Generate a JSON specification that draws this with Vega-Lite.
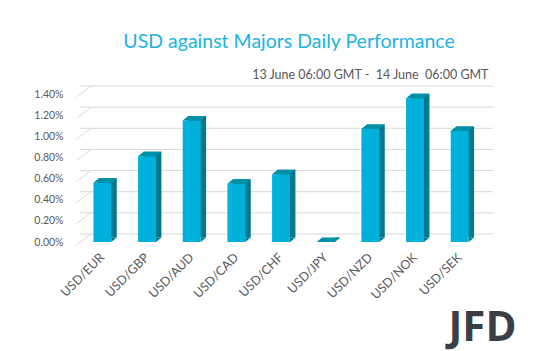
{
  "$schema": "https://vega.github.io/schema/vega-lite/v6.json",
  "autosize": "none",
  "width": 402,
  "height": 148,
  "padding": {"left": 80, "top": 94, "right": 53, "bottom": 109},
  "background": "white",
  "config": {"view": {"stroke": null}},
  "title": {
    "text": "USD against Majors Daily Performance",
    "anchor": "middle",
    "font": "Lato",
    "fontSize": 19.5,
    "fontWeight": "normal",
    "color": "#21B3E0",
    "baseline": "alphabetic",
    "offset": 1,
    "dx": 8
  },
  "datasets": {
    "perf": [
      {"pair": "USD/EUR", "v": 0.0056},
      {"pair": "USD/GBP", "v": 0.0081},
      {"pair": "USD/AUD", "v": 0.0115},
      {"pair": "USD/CAD", "v": 0.0055},
      {"pair": "USD/CHF", "v": 0.0064},
      {"pair": "USD/JPY", "v": 0.0},
      {"pair": "USD/NZD", "v": 0.0107},
      {"pair": "USD/NOK", "v": 0.0136},
      {"pair": "USD/SEK", "v": 0.0105}
    ],
    "ticks": [
      {"v": 0.0}, {"v": 0.002}, {"v": 0.004}, {"v": 0.006},
      {"v": 0.008}, {"v": 0.010}, {"v": 0.012}, {"v": 0.014}
    ]
  },
  "encoding": {
    "y": {
      "field": "v", "type": "quantitative",
      "scale": {"domain": [0, 0.014], "nice": false, "zero": true},
      "axis": {
        "values": [0, 0.002, 0.004, 0.006, 0.008, 0.010, 0.012, 0.014],
        "tickCount": 8,
        "format": ".2%",
        "labelFont": "Lato",
        "labelFontSize": 10.5,
        "labelColor": "#595959",
        "labelPadding": 17,
        "labelOverlap": false,
        "domain": false,
        "ticks": false,
        "grid": false,
        "title": "13 June 06:00 GMT -\u00a0 14 June\u00a0 06:00 GMT",
        "titleAngle": 0,
        "titleX": 408,
        "titleY": -16,
        "titleAlign": "right",
        "titleBaseline": "alphabetic",
        "titleFont": "Lato",
        "titleFontSize": 12.5,
        "titleFontWeight": "normal",
        "titleColor": "#595959",
        "titleLimit": 0
      }
    }
  },
  "layer": [
    {
      "data": {"name": "ticks"},
      "mark": {"type": "rule", "color": "#D9D9D9", "strokeWidth": 1, "xOffset": 11, "x2Offset": 11, "yOffset": -8},
      "encoding": {}
    },
    {
      "data": {"name": "ticks"},
      "mark": {"type": "rule", "color": "#D9D9D9", "strokeWidth": 1, "xOffset": -26, "x2Offset": -11, "yOffset": 3, "y2Offset": -8},
      "encoding": {
        "x": {"datum": "USD/EUR"},
        "x2": {"datum": "USD/EUR"},
        "y2": {"field": "v"}
      }
    },
    {
      "data": {"name": "perf"},
      "mark": {"type": "bar", "color": "#00788F", "xOffset": 5.5, "x2Offset": 5.5, "yOffset": -4.5, "y2Offset": -4.5},
      "encoding": {
        "x": {
          "field": "pair", "type": "nominal",
          "scale": {
            "domain": ["USD/EUR", "USD/GBP", "USD/AUD", "USD/CAD", "USD/CHF", "USD/JPY", "USD/NZD", "USD/NOK", "USD/SEK"],
            "paddingInner": 0.6, "paddingOuter": 0.3
          },
          "axis": {
            "labelAngle": -45,
            "labelFont": "Lato",
            "labelFontSize": 12.5,
            "labelColor": "#595959",
            "labelPadding": 13,
            "domain": false,
            "ticks": false,
            "title": "JFD",
            "titleFont": "Open Sans",
            "titleFontSize": 42,
            "titleFontWeight": "bold",
            "titleColor": "#3A3F46",
            "titleAlign": "right",
            "titleAnchor": "end",
            "titleBaseline": "alphabetic",
            "titleLimit": 0,
            "titleX": 436,
            "titleY": 98
          }
        }
      }
    },
    {
      "data": {"name": "perf"},
      "mark": {"type": "point", "filled": true, "opacity": 1, "strokeWidth": 0, "color": "#00788F", "size": 400, "shape": "M0.9,-0.46L0.9,0L1.45,-0.46Z"},
      "encoding": {
        "x": {"field": "pair", "type": "nominal"},
        "y": {"datum": 0}
      }
    },
    {
      "data": {"name": "perf"},
      "mark": {"type": "bar", "color": "#00B2DB"},
      "encoding": {
        "x": {"field": "pair", "type": "nominal"}
      }
    },
    {
      "data": {"name": "perf"},
      "mark": {"type": "point", "filled": true, "opacity": 1, "strokeWidth": 0, "color": "#0090A8", "size": 400, "shape": "M-0.9,0L0.9,0L1.45,-0.45L-0.35,-0.45Z"},
      "encoding": {
        "x": {"field": "pair", "type": "nominal"}
      }
    }
  ]
}
